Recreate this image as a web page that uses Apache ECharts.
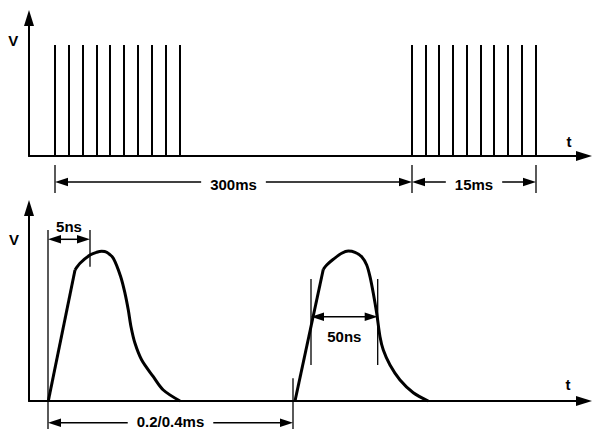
<!DOCTYPE html>
<html><head><meta charset="utf-8">
<script src="https://cdn.jsdelivr.net/npm/echarts@6/dist/echarts.min.js"></script>
<style>html,body{margin:0;padding:0;background:#fff}#c{width:592px;height:429px}</style>
</head><body><div id="c"></div>
<script>
// ---------- Top panel (schematic units) ----------
const topPulseX = [26, 40, 54, 68, 81, 95, 109, 123, 137, 151,
                   383, 397, 410, 424, 438, 452, 465, 479, 493, 507];
const topPulseHeight = 111;
// dimension lines: [x1, x2, y]
const topDims = [[26, 383, -26], [383, 507, -26]];
const topDimLabels = ['300ms', '15ms'];
const topDimModes = ['inline', 'inline'];
// extension lines: [x, y1, y2]
const topExt = [[26, -9, -37], [383, -9, -37], [507, -9, -37]];
const topAxisNames = ['V', 't'];
const topAxisNamePos = [[-15.7, 116], [540, 15]];

// ---------- Bottom panel ----------
const pulse1Rise = [[19.3, 0], [46, 131]];
const pulse1Fall = [[46, 131], [51, 137.7], [61, 146], [67.7, 148.7], [72.7, 149.7], [77.7, 148.7],
  [84.3, 142.7], [91.7, 124.3], [96, 107.7], [99.3, 91], [102, 74.3], [106, 57.7], [112.7, 41],
  [124.3, 24.3], [134.3, 11], [151, 0]];
const pulse2Rise = [[266, 0], [294.3, 131.7]];
const pulse2Fall = [[294.3, 131.7], [297.7, 136], [304.3, 141.7], [312.7, 147.7], [319.3, 150],
  [326, 148.7], [332.7, 144.3], [337.7, 136], [341, 124.3], [344.3, 107.7], [347.7, 87.7],
  [351, 64.3], [354.3, 51], [361, 36], [371, 21], [384.3, 8.3], [399.3, 0]];
const bottomDims = [[19, 61, 161.7], [282, 348.7, 84.3], [19, 264, -21.7]];
const bottomDimLabels = ['5ns', '50ns', '0.2/0.4ms'];
const bottomDimModes = ['above', 'below', 'inlineLow'];
const bottomExt = [[19, 171, -28], [61, 171, 134.3], [264, 22.7, -28], [282, 122, 36], [348.7, 122, 36]];
const bottomAxisNames = ['V', 't'];
const bottomAxisNamePos = [[-15, 162], [539, 17]];

const FONT = 'bold 15px "Liberation Sans", Arial, sans-serif';

function dimRenderer(labels, modes) {
  return function (params, api) {
    const x1 = api.value(0), x2 = api.value(1), y = api.value(2);
    const p1 = api.coord([x1, y]), p2 = api.coord([x2, y]);
    const L = 13, W = 4.2;
    const children = [
      { type: 'line', shape: { x1: p1[0] + L - 1, y1: p1[1], x2: p2[0] - L + 1, y2: p2[1] },
        style: { stroke: '#000', lineWidth: 1.5 } },
      { type: 'polygon', shape: { points: [[p1[0], p1[1]], [p1[0] + L, p1[1] - W], [p1[0] + L, p1[1] + W]] },
        style: { fill: '#000' } },
      { type: 'polygon', shape: { points: [[p2[0], p2[1]], [p2[0] - L, p2[1] - W], [p2[0] - L, p2[1] + W]] },
        style: { fill: '#000' } }
    ];
    const mode = modes[params.dataIndex];
    const off = mode === 'above' ? -12.6 : (mode === 'below' ? 19.3 : (mode === 'inlineLow' ? -1.5 : 2.5));
    const tStyle = { text: labels[params.dataIndex], fill: '#000', font: FONT, align: 'center', verticalAlign: 'middle', lineHeight: 14 };
    if (mode === 'inline' || mode === 'inlineLow') { tStyle.backgroundColor = '#fff'; tStyle.padding = [0, 9]; }
    children.push({ type: 'text', x: (p1[0] + p2[0]) / 2, y: p1[1] + off, style: tStyle, z2: 10 });
    return { type: 'group', children: children };
  };
}
function extRenderer(params, api) {
  const a = api.coord([api.value(0), api.value(1)]);
  const b = api.coord([api.value(0), api.value(2)]);
  return { type: 'line', shape: { x1: a[0], y1: a[1], x2: b[0], y2: b[1] }, style: { stroke: '#000', lineWidth: 1.3 } };
}
function nameRenderer(names) {
  return function (params, api) {
    const p = api.coord([api.value(0), api.value(1)]);
    return { type: 'text', x: p[0], y: p[1], style: { text: names[params.dataIndex], fill: '#000', font: FONT, align: 'center', verticalAlign: 'middle' } };
  };
}

function axisX(gi) {
  return { type: 'value', gridIndex: gi, min: 0, max: 555,
    axisLine: { show: true, onZero: false, symbol: ['none', 'triangle'], symbolSize: [10, 16], lineStyle: { color: '#000', width: 2 } },
    axisTick: { show: false }, axisLabel: { show: false }, splitLine: { show: false } };
}
function axisY(gi, max) {
  return { type: 'value', gridIndex: gi, min: 0, max: max,
    axisLine: { show: true, onZero: false, symbol: ['none', 'triangle'], symbolSize: [10, 16], lineStyle: { color: '#000', width: 2 } },
    axisTick: { show: false }, axisLabel: { show: false }, splitLine: { show: false } };
}
const curveStyle = { color: '#000', width: 3 };
function curve(data, gi, smooth) {
  return { type: 'line', xAxisIndex: gi, yAxisIndex: gi, data: data, symbol: 'none', smooth: smooth,
    clip: false, lineStyle: curveStyle, silent: true, animation: false };
}

const chart = echarts.init(document.getElementById('c'), null, { renderer: 'svg' });
chart.setOption({
  animation: false,
  backgroundColor: '#fff',
  grid: [
    { left: 29, right: 8, top: 18, height: 138 },
    { left: 29, right: 8, top: 208, height: 193 }
  ],
  xAxis: [axisX(0), axisX(1)],
  yAxis: [axisY(0, 138), axisY(1, 193)],
  series: [
    { type: 'bar', xAxisIndex: 0, yAxisIndex: 0, barWidth: 2, clip: false,
      data: topPulseX.map(x => [x, topPulseHeight]), itemStyle: { color: '#000' }, silent: true },
    { type: 'custom', xAxisIndex: 0, yAxisIndex: 0, clip: false, data: topExt, renderItem: extRenderer, encode: { x: 0, y: [1, 2] } },
    { type: 'custom', xAxisIndex: 0, yAxisIndex: 0, clip: false, data: topDims, renderItem: dimRenderer(topDimLabels, topDimModes), encode: { x: [0, 1], y: 2 } },
    { type: 'custom', xAxisIndex: 0, yAxisIndex: 0, clip: false, data: topAxisNamePos, renderItem: nameRenderer(topAxisNames), encode: { x: 0, y: 1 } },
    curve(pulse1Rise, 1, false),
    curve(pulse1Fall, 1, 0.3),
    curve(pulse2Rise, 1, false),
    curve(pulse2Fall, 1, 0.3),
    { type: 'custom', xAxisIndex: 1, yAxisIndex: 1, clip: false, data: bottomExt, renderItem: extRenderer, encode: { x: 0, y: [1, 2] } },
    { type: 'custom', xAxisIndex: 1, yAxisIndex: 1, clip: false, data: bottomDims, renderItem: dimRenderer(bottomDimLabels, bottomDimModes), encode: { x: [0, 1], y: 2 } },
    { type: 'custom', xAxisIndex: 1, yAxisIndex: 1, clip: false, data: bottomAxisNamePos, renderItem: nameRenderer(bottomAxisNames), encode: { x: 0, y: 1 } }
  ]
});
</script></body></html>
